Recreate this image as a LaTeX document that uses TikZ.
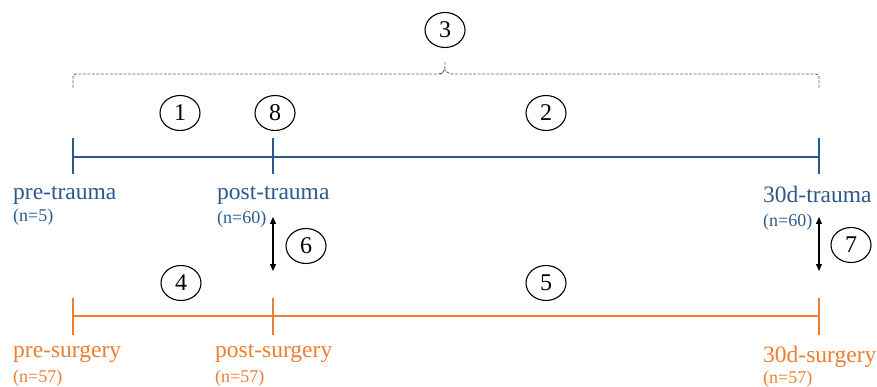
\documentclass[tikz,border=0pt]{standalone}
\usepackage{fontspec}
\setmainfont{Liberation Serif}
\usetikzlibrary{arrows.meta,shapes.geometric}
\definecolor{tblue}{HTML}{2A5A8C}
\definecolor{torange}{HTML}{ED7D31}
\tikzset{
  num/.style={draw=black, line width=1.1pt, ellipse, minimum width=40pt, minimum height=35pt, inner sep=0pt, font=\fontsize{24}{26}\selectfont},
  lbl/.style={anchor=base west, inner sep=0pt, font=\fontsize{23.5}{27}\selectfont},
  cnt/.style={anchor=base west, inner sep=0pt, font=\fontsize{18}{20}\selectfont},
  tline/.style={line width=2.2pt},
  brk/.style={draw=black!60, line width=0.9pt, dash pattern=on 3pt off 1.5pt, rounded corners=3pt},
  link/.style={line width=1.1pt, {Triangle[length=7pt,width=6pt]}-{Triangle[length=7pt,width=6pt]}}
}
\begin{document}
\begin{tikzpicture}[x=1pt,y=-1pt]
\useasboundingbox (0,0) rectangle (877,387);
% trauma timeline
\coordinate (tA) at (73,157);
\coordinate (tB) at (273,157);
\coordinate (tC) at (819,157);
\draw[tblue, tline] (tA) -- (tC);
\foreach \p in {tA,tB,tC} \draw[tblue, tline] ([yshift=-17pt]\p) -- ([yshift=19pt]\p);
% surgery timeline
\coordinate (sA) at (73,316);
\coordinate (sB) at (273,316);
\coordinate (sC) at (819,316);
\draw[torange, tline] (sA) -- (sC);
\foreach \p in {sA,sB,sC} \draw[torange, tline] ([yshift=-19pt]\p) -- ([yshift=18pt]\p);
% labels
\node[lbl, text=tblue] (l1) at (13,200) {pre-trauma};
\node[cnt, text=tblue] (c1) at (13,222) {(n=5)};
\node[lbl, text=tblue] (l2) at (217,200) {post-trauma};
\node[cnt, text=tblue] (c2) at (217,223) {(n=60)};
\node[lbl, text=tblue] (l3) at (763,203) {30d-trauma};
\node[cnt, text=tblue] (c3) at (763,226) {(n=60)};
\node[lbl, text=torange] (l4) at (13,357) {pre-surgery};
\node[cnt, text=torange] (c4) at (13,382) {(n=57)};
\node[lbl, text=torange] (l5) at (215,357) {post-surgery};
\node[cnt, text=torange] (c5) at (215,382) {(n=57)};
\node[lbl, text=torange] (l6) at (763,362) {30d-surgery};
\node[cnt, text=torange] (c6) at (763,383.5) {(n=57)};
% numbered circles
\node[num] (n3) at (445,30) {3};
\node[num] (n1) at (180,113) {1};
\node[num] (n8) at (275,113) {8};
\node[num] (n2) at (546,113) {2};
\node[num] (n4) at (181,283) {4};
\node[num] (n5) at (546,283) {5};
\node[num] (n6) at (306,246) {6};
\node[num] (n7) at (851,245) {7};
% bracket
\coordinate (bL) at (73,88);
\coordinate (bR) at (819,88);
\coordinate (bM) at (445,62);
\draw[brk] (bL) |- (441,74) -- (445,70) -- (bM);
\draw[brk] (bR) |- (449,74) -- (445,70);
% vertical links
\coordinate (a1) at (273,217);
\coordinate (a2) at (273,271);
\coordinate (b1) at (819,217);
\coordinate (b2) at (819,271);
\draw[link] (a1) -- (a2);
\draw[link] (b1) -- (b2);
\end{tikzpicture}
\end{document}
